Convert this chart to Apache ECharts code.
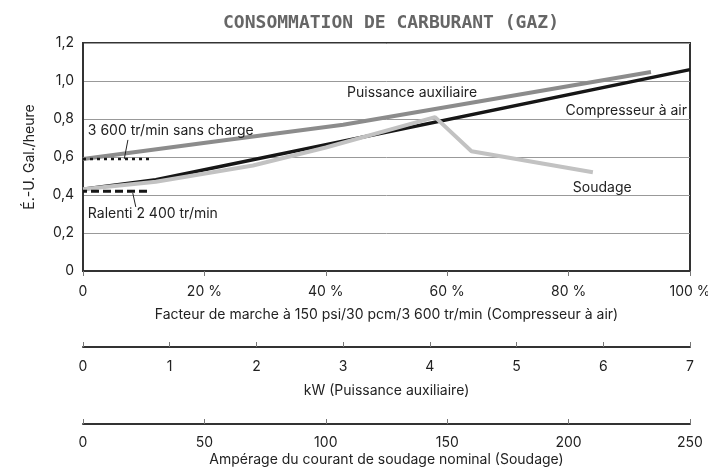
<!DOCTYPE html>
<html>
<head>
<meta charset="utf-8">
<script src="https://cdn.jsdelivr.net/npm/echarts@6/dist/echarts.min.js"></script>
<style>
  html, body { margin: 0; padding: 0; background: #fff; }
  #chart { width: 708px; height: 467px; }
</style>
</head>
<body>
<div id="chart"></div>
<script>
// données
var compresseur = [[0, 0.43], [12, 0.48], [100, 1.06]];          // % facteur de marche
var auxiliaire = [[0, 0.59], [1.5, 0.68], [3, 0.77], [6.55, 1.047]]; // kW
var soudage = [[0, 0.43], [30, 0.47], [70, 0.555], [100, 0.65], [145, 0.81], [160, 0.63], [210, 0.52]]; // A
var ralenti = [[0, 0.42], [11, 0.42]];
var sansCharge = [[0, 0.59], [11.5, 0.59]];

var yTicks = [0, 0.2, 0.4, 0.6, 0.8, 1.0, 1.2];
var pctTicks = [0, 20, 40, 60, 80, 100];
var kwTicks = [0, 1, 2, 3, 4, 5, 6, 7];
var ampTicks = [0, 50, 100, 150, 200, 250];

var FONT = 'Inter';
var TXT = '#222';

window.onload = function () {
    setChart();
}

function setChart() {
    var dom = document.getElementById('chart');
    var myChart = echarts.init(dom);

    var baseAxis = {
        type: 'value',
        position: 'bottom',
        nameLocation: 'middle',
        nameTextStyle: { fontFamily: FONT, fontSize: 14, color: TXT },
        axisLine: { show: true, onZero: false, lineStyle: { color: '#333', width: 2 } },
        axisTick: { show: true, length: 5, lineStyle: { color: '#777' } },
        axisLabel: { fontFamily: FONT, fontSize: 14, color: TXT },
        splitLine: { show: false }
    };

    var option = {
        animation: false,
        title: {
            text: 'CONSOMMATION DE CARBURANT (GAZ)',
            left: 386,
            textAlign: 'center',
            top: 9,
            textStyle: { fontFamily: 'DejaVu Sans Mono', fontSize: 18, fontWeight: 'bold', color: '#666' }
        },
        grid: {
            left: 83, right: 18, top: 43, bottom: 196,
            outerBoundsMode: 'none',
            show: true, borderColor: '#333', borderWidth: 2, backgroundColor: 'transparent'
        },
        xAxis: [
            Object.assign({}, baseAxis, {
                min: pctTicks[0], max: pctTicks[pctTicks.length - 1], interval: 20,
                name: 'Facteur de marche à 150 psi/30 pcm/3 600 tr/min (Compresseur à air)',
                nameGap: 37,
                axisTick: { show: true, inside: false, length: 5, lineStyle: { color: '#777' } },
                axisLabel: { fontFamily: FONT, fontSize: 14, color: TXT, margin: 14,
                    formatter: function (v) { return v === 0 ? '0' : v + ' %'; } }
            }),
            Object.assign({}, baseAxis, {
                min: kwTicks[0], max: kwTicks[kwTicks.length - 1], interval: 1,
                offset: 76,
                name: 'kW (Puissance auxiliaire)',
                nameGap: 37,
                axisTick: { show: true, inside: true, length: 5, lineStyle: { color: '#777' } },
                axisLabel: { fontFamily: FONT, fontSize: 14, color: TXT, margin: 13 }
            }),
            Object.assign({}, baseAxis, {
                min: ampTicks[0], max: ampTicks[ampTicks.length - 1], interval: 50,
                offset: 153,
                name: 'Ampérage du courant de soudage nominal (Soudage)',
                nameGap: 29,
                axisTick: { show: true, inside: true, length: 5, lineStyle: { color: '#777' } },
                axisLabel: { fontFamily: FONT, fontSize: 14, color: TXT, margin: 12 }
            })
        ],
        yAxis: {
            type: 'value',
            min: yTicks[0], max: yTicks[yTicks.length - 1], interval: 0.2,
            name: 'É.-U. Gal./heure',
            nameLocation: 'middle',
            nameGap: 46,
            nameTextStyle: { fontFamily: FONT, fontSize: 14, color: TXT },
            axisLine: { show: true, lineStyle: { color: '#333', width: 2 } },
            axisTick: { show: false },
            axisLabel: { fontFamily: FONT, fontSize: 14, color: TXT, margin: 9,
                formatter: function (v) { return v === 0 ? '0' : v.toFixed(1).replace('.', ','); } },
            splitLine: { show: true, lineStyle: { color: '#999', width: 1 } }
        },
        series: [
            {
                name: 'Compresseur à air', type: 'line', xAxisIndex: 0, data: compresseur,
                showSymbol: false, lineStyle: { color: '#161616', width: 3.5 }, z: 3
            },
            {
                name: 'Puissance auxiliaire', type: 'line', xAxisIndex: 1, data: auxiliaire,
                showSymbol: false, lineStyle: { color: '#8c8c8c', width: 4 }, z: 3
            },
            {
                name: 'Soudage', type: 'line', xAxisIndex: 2, data: soudage,
                showSymbol: false, lineStyle: { color: '#c2c2c2', width: 4 }, z: 4
            },
            {
                name: 'Ralenti', type: 'line', xAxisIndex: 0, data: ralenti,
                showSymbol: false, lineStyle: { color: '#161616', width: 3, type: [8, 4], dashOffset: 4 }, z: 5
            },
            {
                name: 'Sans charge', type: 'line', xAxisIndex: 0, data: sansCharge,
                showSymbol: false, lineStyle: { color: '#161616', width: 2.5, type: [3, 4] }, z: 5
            }
        ]
    };
    myChart.setOption(option);

    // annotations placées en coordonnées de données (axe % / gal)
    function px(x, y) { return myChart.convertToPixel({ xAxisIndex: 0, yAxisIndex: 0 }, [x, y]); }
    function txt(x, y, s, align) {
        var p = px(x, y);
        return { type: 'text', x: p[0], y: p[1], z: 10,
            style: { text: s, fontFamily: FONT, fontSize: 14, fill: TXT, align: align || 'left', verticalAlign: 'middle' } };
    }
    function lead(a, b) {
        var p1 = px(a[0], a[1]), p2 = px(b[0], b[1]);
        return { type: 'line', z: 10, shape: { x1: p1[0], y1: p1[1], x2: p2[0], y2: p2[1] },
            style: { stroke: '#222', lineWidth: 1 } };
    }
    myChart.setOption({
        graphic: [
            txt(43.5, 0.937, 'Puissance auxiliaire'),
            txt(99.5, 0.842, 'Compresseur à air', 'right'),
            txt(80.7, 0.44, 'Soudage'),
            txt(0.8, 0.737, '3 600 tr/min sans charge'),
            txt(0.8, 0.30, 'Ralenti 2 400 tr/min'),
            lead([7.4, 0.69], [6.8, 0.59]),
            lead([8.2, 0.41], [8.7, 0.337])
        ]
    });
}
</script>
</body>
</html>
